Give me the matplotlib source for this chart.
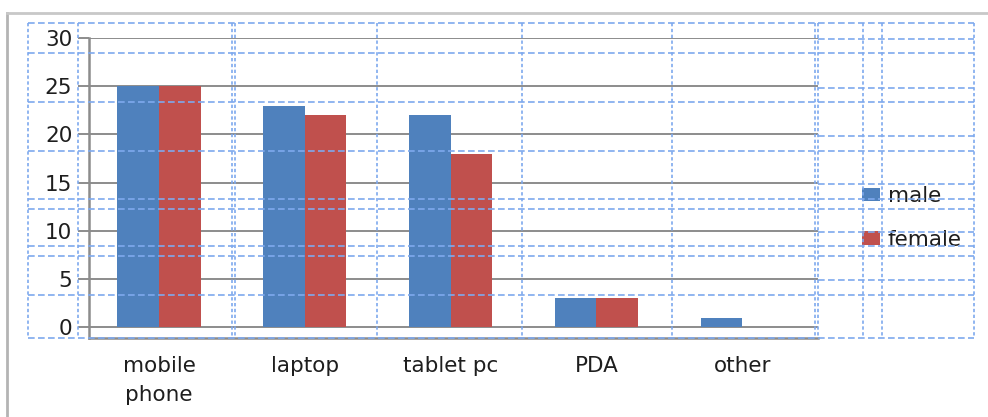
import matplotlib
matplotlib.use("Agg")
import matplotlib.pyplot as plt
from matplotlib.lines import Line2D
from matplotlib.patches import Patch
import numpy as np

# ---------------------------------------------------------------------------
# Data
# ---------------------------------------------------------------------------
categories = ["mobile\nphone", "laptop", "tablet pc", "PDA", "other"]
male = [25, 23, 22, 3, 1]
female = [25, 22, 18, 3, 0]
y_ticks = [0, 5, 10, 15, 20, 25, 30]

BLUE = "#4F81BD"
RED = "#C0504D"
GRID = "#8c8c8c"
DASH = "#7ea9ee"
TXT = "#1e1e1e"

W, H = 988, 417
plt.rcParams["font.family"] = ["DejaVu Sans"]
FS = 15.5

fig = plt.figure(figsize=(W / 100, H / 100), dpi=100)
fig.patch.set_facecolor("white")


def fx(px):
    return px / W


def fy(py):
    return 1 - py / H


# plot area (pixels measured from reference)
ax = fig.add_axes([fx(89), fy(338), fx(818) - fx(89), fy(38) - fy(338)])

x = np.arange(len(categories))
bw = 0.285
ax.bar(x - bw / 2, male, bw, color=BLUE, label="male", zorder=3)
ax.bar(x + bw / 2, female, bw, color=RED, label="female", zorder=3)

ax.set_xlim(-0.48, 4.52)
ax.set_ylim(-1.1, 30)
ax.set_yticks(y_ticks)
ax.set_yticklabels([str(t) for t in y_ticks], fontsize=FS, color=TXT)
ax.yaxis.grid(True, color=GRID, linewidth=1.4, zorder=0)
ax.tick_params(axis="y", length=8, width=1.4, color=GRID, pad=4)
ax.set_xticks(x)
ax.set_xticklabels(categories, fontsize=FS, color=TXT, linespacing=1.55)
ax.tick_params(axis="x", length=0, pad=13)
for s in ["top", "right"]:
    ax.spines[s].set_visible(False)
for s in ["left", "bottom"]:
    ax.spines[s].set_color(GRID)
    ax.spines[s].set_linewidth(1.8)

handles = [Patch(facecolor=BLUE, label="male"), Patch(facecolor=RED, label="female")]
fig.legend(handles=handles, loc="center left", bbox_to_anchor=(fx(862), fy(218)),
           frameon=False, fontsize=FS, handlelength=0.85, handleheight=0.6,
           handletextpad=0.35, labelspacing=1.1, borderpad=0, borderaxespad=0,
           labelcolor=TXT)

# outer gray frame of the embedded object
fig.add_artist(Line2D([fx(7), fx(7)], [fy(13), 0], color="#b4b4b4", lw=2))
fig.add_artist(Line2D([fx(7), 1], [fy(13), fy(13)], color="#c8c8c8", lw=2))

# blue dashed layout guides over the chart
h_full = [23, 53, 102, 151, 199, 209, 246, 256, 295, 338]
h_legend = [39, 88, 136, 184, 232, 280]
v_full = [28, 78, 232, 235, 377, 522, 672, 815, 818, 863, 882, 974]
for yy in h_full:
    fig.add_artist(Line2D([fx(28), fx(974)], [fy(yy), fy(yy)], color=DASH,
                          lw=1.2, ls=(0, (4, 2)), zorder=10))
for yy in h_legend:
    fig.add_artist(Line2D([fx(818), fx(974)], [fy(yy), fy(yy)], color=DASH,
                          lw=1.2, ls=(0, (4, 2)), zorder=10))
for xx in v_full:
    fig.add_artist(Line2D([fx(xx), fx(xx)], [fy(23), fy(338)], color=DASH,
                          lw=1.2, ls=(0, (2, 1.5)), zorder=10))

fig.savefig("out.png", dpi=100)
